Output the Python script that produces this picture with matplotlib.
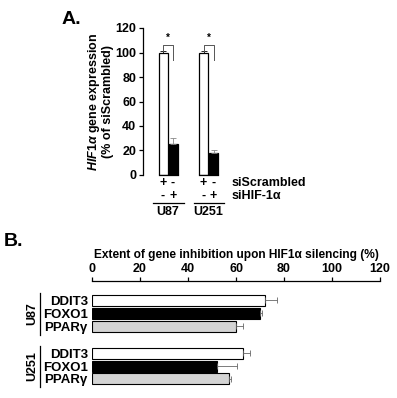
import numpy as np
import matplotlib
matplotlib.use("Agg")
import matplotlib.pyplot as plt
from matplotlib.transforms import offset_copy, blended_transform_factory

plt.rcParams['font.family'] = ['Liberation Sans', 'DejaVu Sans']
plt.rcParams['font.weight'] = 'bold'
plt.rcParams['mathtext.fontset'] = 'custom'
plt.rcParams['mathtext.it'] = 'Liberation Sans:italic:bold'
plt.rcParams['mathtext.rm'] = 'Liberation Sans:bold'
plt.rcParams['mathtext.bf'] = 'Liberation Sans:bold'

# DATA: panel A
cells = ["U87", "U251"]
scr_vals = [100, 100]
scr_err = [1, 1]
si_vals = [25, 18]
si_err = [5, 2]
row_scr = ["+", "-"]
row_si = ["-", "+"]

# DATA: panel B
genes = ["DDIT3", "FOXO1", "PPAR\u03b3"]
u87_vals = [72, 70, 60]
u87_err = [5, 1, 3]
u251_vals = [63, 52, 57]
u251_err = [3, 8.5, 1]
gene_colors = ["white", "black", "#d4d4d4"]

W, H = 397, 398
fig = plt.figure(figsize=(W / 100, H / 100), dpi=100)


def frac(x0, y0, x1, y1):
    # pixel box -> figure fraction rect
    return [x0 / W, 1 - y1 / H, (x1 - x0) / W, (y1 - y0) / H]


# ---------------- panel A ----------------
axA = fig.add_axes(frac(143, 28, 225, 175))
pair_x = [2.0, 6.05]
wbar = 0.9
for i, cx in enumerate(pair_x):
    axA.bar(cx, scr_vals[i], wbar, color="white", edgecolor="black", lw=0.9,
            yerr=[[0], [scr_err[i]]], error_kw=dict(lw=0.6, capsize=2, capthick=0.6))
    axA.bar(cx + 1, si_vals[i], wbar, color="black", edgecolor="black", lw=0.9,
            yerr=[[0], [si_err[i]]], error_kw=dict(lw=0.6, capsize=2, capthick=0.6, ecolor="#888"))
    # significance bracket
    axA.plot([cx, cx, cx + 1, cx + 1], [scr_vals[i] + 1, 106.5, 106.5, 94],
             color="#555", lw=0.7, clip_on=False)
    axA.text(cx + 0.5, 107.5, "*", ha="center", va="bottom", fontsize=7)
    # baseline under the pair
    axA.plot([cx - wbar / 2, cx + 1 + wbar / 2], [0, 0], color="black", lw=0.9, clip_on=False)

axA.set_xlim(0, 8.2)
axA.set_ylim(0, 120)
axA.set_yticks(np.arange(0, 121, 20))
axA.tick_params(axis="y", labelsize=9, length=3, width=0.9, pad=2)
axA.set_xticks([])
for s in ["top", "right", "bottom"]:
    axA.spines[s].set_visible(False)
axA.spines["left"].set_linewidth(0.9)
axA.set_ylabel("$HIF1\\alpha$ gene expression\n(% of siScrambled)",
               fontsize=9, fontweight="bold", labelpad=1, linespacing=0.95)

# labels under panel A
for i, cx in enumerate(pair_x):
    for k, dx in enumerate([0, 1]):
        axA.annotate(row_scr[k], (cx + dx, 0), xytext=(0, -8), textcoords="offset pixels",
                     ha="center", va="center", fontsize=9, annotation_clip=False)
        axA.annotate(row_si[k], (cx + dx, 0), xytext=(0, -21), textcoords="offset pixels",
                     ha="center", va="center", fontsize=9, annotation_clip=False)
    tr = offset_copy(axA.transData, fig=fig, x=0, y=-28, units="dots")
    axA.plot([cx - 1.0, cx + 2.05], [0, 0], color="black", lw=0.9, transform=tr, clip_on=False)
    axA.annotate(cells[i], (cx + 0.5, 0), xytext=(0, -37), textcoords="offset pixels",
                 ha="center", va="center", fontsize=9, annotation_clip=False)

fig.text(232 / W, 1 - 183 / H, "siScrambled", ha="left", va="center", fontsize=9)
fig.text(232 / W, 1 - 196 / H, "siHIF-1\u03b1", ha="left", va="center", fontsize=9)
fig.text(62 / W, 1 - 19 / H, "A.", ha="left", va="center", fontsize=14, fontweight="bold")

# ---------------- panel B ----------------
axB = fig.add_axes(frac(92, 281, 380, 388))
pos_u87 = np.array([0, 1, 2])
pos_u251 = pos_u87 + 4.1
hbar = 0.85
ekw = dict(lw=0.6, capsize=2, capthick=0.6, ecolor="#666")
axB.barh(pos_u87, u87_vals, hbar, color=gene_colors, edgecolor="black", lw=0.8,
         xerr=[np.zeros(3), u87_err], error_kw=ekw)
axB.barh(pos_u251, u251_vals, hbar, color=gene_colors, edgecolor="black", lw=0.8,
         xerr=[np.zeros(3), u251_err], error_kw=ekw)

axB.set_xlim(0, 120)
axB.set_ylim(6.8, -1.5)
axB.xaxis.tick_top()
axB.set_xticks(np.arange(0, 121, 20))
axB.tick_params(axis="x", labelsize=9, length=3, width=0.9, pad=1)
axB.set_yticks(np.concatenate([pos_u87, pos_u251]))
axB.set_yticklabels(genes + genes, fontsize=9.5)
axB.tick_params(axis="y", length=0, pad=3)
for s in ["bottom", "right", "left"]:
    axB.spines[s].set_visible(False)
axB.spines["top"].set_linewidth(0.9)
axB.text(0.5, 1 + 26 / 107, "Extent of gene inhibition upon HIF1\u03b1 silencing (%)",
         transform=axB.transAxes, ha="center", va="center", fontsize=8.6)

btr = blended_transform_factory(axB.transAxes, axB.transData)
for name, pos in [("U87", pos_u87), ("U251", pos_u251)]:
    axB.plot([-52 / 288, -52 / 288], [pos[0] - 0.55, pos[-1] + 0.65], color="black",
             lw=0.9, transform=btr, clip_on=False)
    axB.text(-60 / 288, pos[1], name, transform=btr, rotation=90, ha="center",
             va="center", fontsize=9)

fig.text(4 / W, 1 - 241 / H, "B.", ha="left", va="center", fontsize=14, fontweight="bold")

fig.savefig("out.png", dpi=100)
